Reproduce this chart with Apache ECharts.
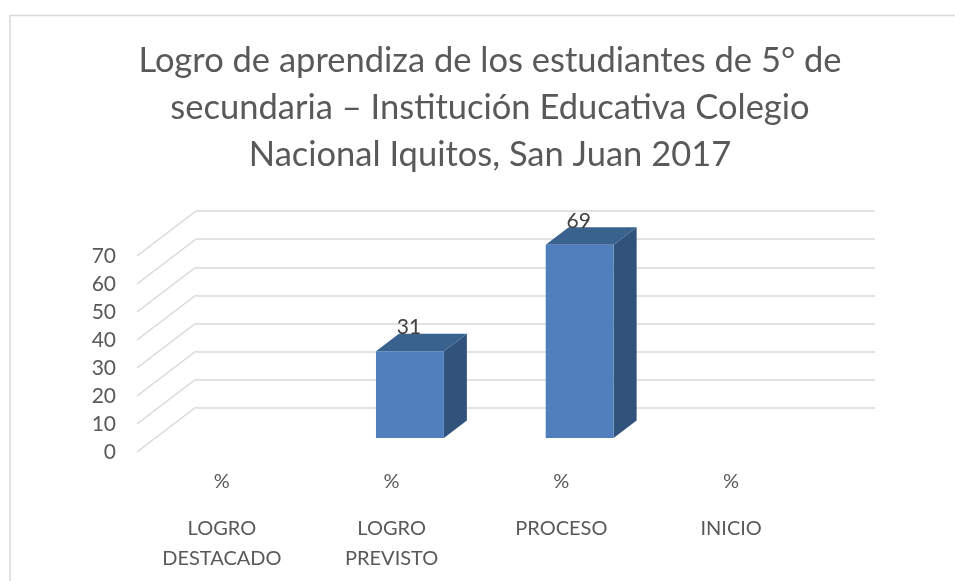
<!DOCTYPE html>
<html>
<head>
<meta charset="utf-8">
<title>Logro de aprendizaje</title>
<script src="https://cdn.jsdelivr.net/npm/echarts@6/dist/echarts.min.js"></script>
<style>
  html, body { margin: 0; padding: 0; background: #fff; }
  #chart { width: 955px; height: 581px; }
</style>
</head>
<body>
<div id="chart"></div>
<script>
const titleText = 'Logro de aprendiza de los estudiantes de 5° de\nsecundaria – Institución Educativa Colegio\nNacional Iquitos, San Juan 2017'
const categories = ['LOGRO\nDESTACADO', 'LOGRO\nPREVISTO', 'PROCESO', 'INICIO']
const unitLabels = ['%', '%', '%', '%']
const values = [null, 31, 69, null]
const yTicks = [0, 10, 20, 30, 40, 50, 60, 70]

const fontName = 'Lato'
// fake 3d: how far the back wall sits from the front plane, in px
const wallX = 59
const wallY = 45
// the bars take the middle part of that depth
const barStart = 0.31
const barDepth = 0.39

const chart = echarts.init(document.getElementById('chart'))

function renderBar(params, api) {
  const base = api.coord([api.value(0), 0])
  const top = api.coord([api.value(0), api.value(1)])
  const w = api.size([1, 0])[0] * 0.4
  const cx = base[0] + wallX * barStart
  const x0 = cx - w / 2
  const x1 = cx + w / 2
  const yTop = top[1] - wallY * barStart
  const yBase = base[1] - wallY * barStart
  const dx = wallX * barDepth
  const dy = wallY * barDepth
  return {
    type: 'group',
    children: [
      { type: 'polygon', shape: { points: [[x1, yTop], [x1 + dx, yTop - dy], [x1 + dx, yBase - dy], [x1, yBase]] }, style: { fill: '#31527b' } },
      { type: 'polygon', shape: { points: [[x0, yTop], [x0 + dx, yTop - dy], [x1 + dx, yTop - dy], [x1, yTop]] }, style: { fill: '#3a628f' } },
      { type: 'rect', shape: { x: x0, y: yTop, width: w, height: yBase - yTop }, style: { fill: '#4f80bd' } },
      { type: 'text', style: { text: String(api.value(1)), x: cx - 1, y: yTop - dy + 4, textAlign: 'center', textVerticalAlign: 'bottom', fill: '#404040', font: '21px ' + fontName } }
    ]
  }
}

function renderSideLine(params, api) {
  const x = params.coordSys.x
  const y = api.coord([0, api.value(0)])[1]
  return {
    type: 'line',
    shape: { x1: x, y1: y, x2: x + wallX, y2: y - wallY },
    style: { stroke: '#d9d9d9', lineWidth: 1.5 }
  }
}

chart.setOption({
  animation: false,
  backgroundColor: '#fff',
  title: {
    text: titleText,
    left: 485,
    top: 32,
    textAlign: 'center',
    textStyle: { fontFamily: fontName, fontWeight: 'normal', fontSize: 34.5, lineHeight: 47, color: '#595959' }
  },
  graphic: [{
    type: 'polyline',
    shape: { points: [[10, 581], [10, 15.5], [955, 15.5]] },
    style: { stroke: '#d9d9d9', fill: null, lineWidth: 1.5 },
    silent: true
  }],
  grid: [
    { left: 137, top: 256, width: 679, height: 196 },
    { left: 196, top: 211, width: 679, height: 197 }
  ],
  xAxis: [
    {
      gridIndex: 0,
      type: 'category',
      data: unitLabels,
      axisLine: { show: false },
      axisTick: { show: false },
      axisLabel: { interval: 0, margin: 20, fontFamily: fontName, fontSize: 20, color: '#595959' }
    },
    {
      gridIndex: 0,
      type: 'category',
      position: 'bottom',
      offset: 62,
      data: categories,
      axisLine: { show: false },
      axisTick: { show: false },
      axisLabel: { interval: 0, margin: 0, fontFamily: fontName, fontSize: 20, lineHeight: 30, color: '#595959' }
    },
    { gridIndex: 1, type: 'category', data: unitLabels, show: false }
  ],
  yAxis: [
    {
      gridIndex: 0,
      type: 'value',
      min: 0,
      max: 70,
      interval: 10,
      axisLine: { show: false },
      axisTick: { show: false },
      splitLine: { show: false },
      axisLabel: { margin: 21, fontFamily: fontName, fontSize: 21, color: '#595959' }
    },
    {
      gridIndex: 1,
      type: 'value',
      min: 0,
      max: 70,
      interval: 10,
      axisLine: { show: false },
      axisTick: { show: false },
      axisLabel: { show: false },
      splitLine: { lineStyle: { color: '#d9d9d9', width: 1.5 } }
    }
  ],
  series: [
    {
      type: 'custom',
      xAxisIndex: 0,
      yAxisIndex: 0,
      data: yTicks.map(v => [v]),
      encode: { y: 0 },
      clip: false,
      silent: true,
      renderItem: renderSideLine
    },
    {
      type: 'custom',
      xAxisIndex: 0,
      yAxisIndex: 0,
      z: 5,
      clip: false,
      data: values.map((v, i) => [i, v]),
      encode: { x: 0, y: 1 },
      renderItem: renderBar
    }
  ]
})
</script>
</body>
</html>
